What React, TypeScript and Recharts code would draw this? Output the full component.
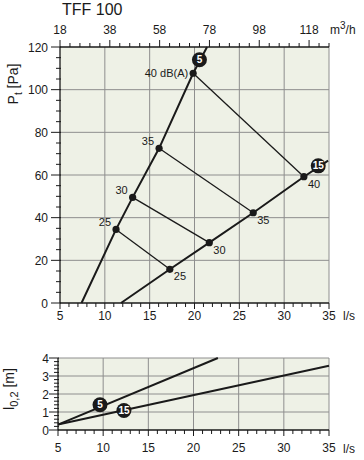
import { LineChart, Line, XAxis, YAxis, CartesianGrid, ReferenceDot } from "recharts";

const FONT = '"Liberation Sans", Arial, Helvetica, sans-serif';
const INK = "#1a1a1a";

// Pressure diagram: flow [l/s] against total pressure [Pa]
const curve5Flow = [7.4, 11.25, 13.1, 16.05, 19.85, 21.4];
const curve5Pressure = [0, 34.5, 49.5, 72.5, 107.7, 120];
const curve5Labels = [null, "25", "30", "35", "40 dB(A)", null];

const curve15Flow = [11.8, 17.25, 21.65, 26.55, 32.2, 34.9];
const curve15Pressure = [0, 15.8, 28.3, 42.3, 59.2, 66.7];
const curve15Labels = [null, "25", "30", "35", "40", null];

// same sound level points are joined between the two curves
const soundLevelIndex = [1, 2, 3, 4];

// setting badges on the curves
const badgeNames = ["5", "15"];
const badgeFlow = [20.55, 33.8];
const badgePressure = [114, 64.3];

// Throw diagram: flow [l/s] against l0,2 [m]
const throw5Flow = [5, 22.7];
const throw5Length = [0.3, 4];
const throw15Flow = [5, 35];
const throw15Length = [0.3, 3.57];
const throwBadgeFlow = [9.65, 12.3];
const throwBadgeLength = [1.4, 1.08];

// axis ticks
const flowTicks = Array.from({ length: 31 }, (_, i) => 5 + i); // 5..35, labels every 5
const m3hTicks = Array.from({ length: 28 }, (_, i) => 18 + i * 4); // 18..126 m3/h, labels every 20
const pressureTicks = Array.from({ length: 25 }, (_, i) => i * 5); // 0..120, labels every 20
const throwTicks = Array.from({ length: 21 }, (_, i) => Math.round(i * 2) / 10); // 0..4, labels every 1

const toPoints = (xs: number[], ys: number[]) => xs.map((x, i) => ({ x, y: ys[i] }));

const curve5 = toPoints(curve5Flow, curve5Pressure);
const curve15 = toPoints(curve15Flow, curve15Pressure);
const connectors = soundLevelIndex.map((i) => [
  { x: curve5Flow[i], y: curve5Pressure[i] },
  { x: curve15Flow[i], y: curve15Pressure[i] },
]);

const isWhole = (v: number, step: number) => Math.abs(v / step - Math.round(v / step)) < 1e-6;

function BottomTick({ x, y, payload, offset }: any) {
  const v = payload.value;
  const major = isWhole(v, 5);
  return (
    <g>
      <line x1={x} y1={y} x2={x} y2={y + (major ? 6 : 4)} stroke={INK} strokeWidth={1} />
      {major && (
        <text x={x} y={y + offset} textAnchor="middle" fontSize={12} fill={INK} fontFamily={FONT}>
          {v}
        </text>
      )}
    </g>
  );
}

function TopTick({ x, y, payload }: any) {
  const m3h = Math.round(payload.value * 3.6);
  const major = (m3h - 18) % 20 === 0;
  return (
    <g>
      <line x1={x} y1={y} x2={x} y2={y - (major ? 7 : 4)} stroke={INK} strokeWidth={1} />
      {major && (
        <text x={x} y={y - 13} textAnchor="middle" fontSize={12} fill={INK} fontFamily={FONT}>
          {m3h}
        </text>
      )}
    </g>
  );
}

function LeftTick({ x, y, payload, step, gap }: any) {
  const v = payload.value;
  const major = isWhole(v, step);
  return (
    <g>
      <line x1={major ? x - 9 : x - 4} y1={y} x2={x + 1} y2={y} stroke={INK} strokeWidth={1} />
      {major && (
        <text x={x - gap} y={y + 4.5} textAnchor="end" fontSize={12} fill={INK} fontFamily={FONT}>
          {v}
        </text>
      )}
    </g>
  );
}

const levelDot = (labels: (string | null)[], side: "left" | "right") => (props: any) => {
  const { cx, cy, index } = props;
  const label = labels[index];
  if (label == null) return <g key={`d-${index}`} />;
  const left = side === "left";
  return (
    <g key={`d-${index}`}>
      <circle cx={cx} cy={cy} r={3.6} fill={INK} />
      <text
        x={left ? cx - 5 : cx + 4}
        y={left ? (label.length > 2 ? cy + 4 : cy - 3) : cy + 11}
        textAnchor={left ? "end" : "start"}
        fontSize={11}
        fill={INK}
        fontFamily={FONT}
      >
        {label}
      </text>
    </g>
  );
};

const badgeLabel = (value: string) => ({
  value,
  position: "center" as const,
  fill: "#fff",
  fontSize: 10,
  fontWeight: 700,
  fontFamily: FONT,
});

export default function App() {
  return (
    <div style={{ position: "absolute", left: 0, top: 0, width: 364, height: 460, background: "#fff", fontFamily: FONT }}>
      <div style={{ position: "absolute", left: 0, top: 0 }}>
        <LineChart width={364} height={340} margin={{ top: 17, right: 35, bottom: 7, left: 0 }}>
          <CartesianGrid
            fill="#eef1e6"
            fillOpacity={1}
            stroke="#8e8e8e"
            strokeWidth={1}
            verticalValues={[10, 15, 20, 25, 30, 35]}
            horizontalValues={[20, 40, 60, 80, 100]}
          />
          <XAxis
            type="number"
            dataKey="x"
            domain={[5, 35]}
            ticks={flowTicks}
            interval={0}
            height={30}
            tickSize={0}
            tickMargin={0}
            tickLine={false}
            axisLine={{ stroke: INK, strokeWidth: 1.3 }}
            tick={<BottomTick offset={17} />}
          />
          <XAxis
            xAxisId="top"
            orientation="top"
            type="number"
            dataKey="x"
            domain={[5, 35]}
            ticks={m3hTicks.map((m) => m / 3.6)}
            interval={0}
            height={30}
            tickSize={0}
            tickMargin={0}
            tickLine={false}
            axisLine={{ stroke: INK, strokeWidth: 1.3 }}
            tick={<TopTick />}
          />
          <YAxis
            type="number"
            domain={[0, 120]}
            ticks={pressureTicks}
            interval={0}
            width={60}
            tickSize={0}
            tickMargin={0}
            tickLine={false}
            axisLine={{ stroke: INK, strokeWidth: 1.3 }}
            tick={<LeftTick step={20} gap={12} />}
          />
          {/* the m3/h scale is the same flow, so the curve is also bound to the top axis, not drawn */}
          <Line
            xAxisId="top"
            data={curve5}
            dataKey="y"
            stroke="none"
            dot={false}
            activeDot={false}
            isAnimationActive={false}
          />
          {connectors.map((seg, i) => (
            <Line
              key={`c-${i}`}
              data={seg}
              dataKey="y"
              stroke={INK}
              strokeWidth={1.3}
              dot={false}
              activeDot={false}
              isAnimationActive={false}
            />
          ))}
          <Line
            data={curve5}
            dataKey="y"
            stroke={INK}
            strokeWidth={2}
            dot={levelDot(curve5Labels, "left")}
            activeDot={false}
            isAnimationActive={false}
          />
          <Line
            data={curve15}
            dataKey="y"
            stroke={INK}
            strokeWidth={2}
            dot={levelDot(curve15Labels, "right")}
            activeDot={false}
            isAnimationActive={false}
          />
          {badgeNames.map((name, i) => (
            <ReferenceDot
              key={`b-${name}`}
              x={badgeFlow[i]}
              y={badgePressure[i]}
              r={7.5}
              fill={INK}
              stroke="none"
              label={badgeLabel(name)}
            />
          ))}
        </LineChart>
      </div>

      <div style={{ position: "absolute", left: 0, top: 340 }}>
        <LineChart width={364} height={120} margin={{ top: 18, right: 35, bottom: 0, left: 0 }}>
          <CartesianGrid
            fill="#eef1e6"
            fillOpacity={1}
            stroke="#8e8e8e"
            strokeWidth={1}
            verticalValues={[10, 15, 20, 25, 30, 35]}
            horizontalValues={[1, 2, 3, 4]}
          />
          <XAxis
            type="number"
            dataKey="x"
            domain={[5, 35]}
            ticks={flowTicks}
            interval={0}
            height={30}
            tickSize={0}
            tickMargin={0}
            tickLine={false}
            axisLine={{ stroke: INK, strokeWidth: 1.3 }}
            tick={<BottomTick offset={22} />}
          />
          <YAxis
            type="number"
            domain={[0, 4]}
            ticks={throwTicks}
            interval={0}
            width={58}
            tickSize={0}
            tickMargin={0}
            tickLine={false}
            axisLine={{ stroke: INK, strokeWidth: 1.3 }}
            tick={<LeftTick step={1} gap={9} />}
          />
          <Line
            data={toPoints(throw5Flow, throw5Length)}
            dataKey="y"
            stroke={INK}
            strokeWidth={2}
            dot={false}
            activeDot={false}
            isAnimationActive={false}
          />
          <Line
            data={toPoints(throw15Flow, throw15Length)}
            dataKey="y"
            stroke={INK}
            strokeWidth={2}
            dot={false}
            activeDot={false}
            isAnimationActive={false}
          />
          {badgeNames.map((name, i) => (
            <ReferenceDot
              key={`tb-${name}`}
              x={throwBadgeFlow[i]}
              y={throwBadgeLength[i]}
              r={7.5}
              fill={INK}
              stroke="none"
              label={badgeLabel(name)}
            />
          ))}
        </LineChart>
      </div>

      <svg width={364} height={460} style={{ position: "absolute", left: 0, top: 0, pointerEvents: "none" }}>
        <text x={62} y={15} fontSize={16} fill={INK} fontFamily={FONT}>
          TFF 100
        </text>
        <text x={330} y={34} fontSize={12} fill={INK} fontFamily={FONT}>
          m<tspan dy={-5} fontSize={10}>3</tspan>
          <tspan dy={5}>/h</tspan>
        </text>
        <text x={343} y={320} fontSize={12} fill={INK} fontFamily={FONT}>
          l/s
        </text>
        <text x={343} y={453} fontSize={12} fill={INK} fontFamily={FONT}>
          l/s
        </text>
        <text transform="translate(18,84) rotate(-90)" textAnchor="middle" fontSize={14} fill={INK} fontFamily={FONT}>
          P<tspan dy={4} fontSize={10}>t</tspan>
          <tspan dy={-4}> [Pa]</tspan>
        </text>
        <text transform="translate(14,389) rotate(-90)" textAnchor="middle" fontSize={14} fill={INK} fontFamily={FONT}>
          l<tspan dy={4} fontSize={11}>0,2</tspan>
          <tspan dy={-4}> [m]</tspan>
        </text>
      </svg>
    </div>
  );
}
